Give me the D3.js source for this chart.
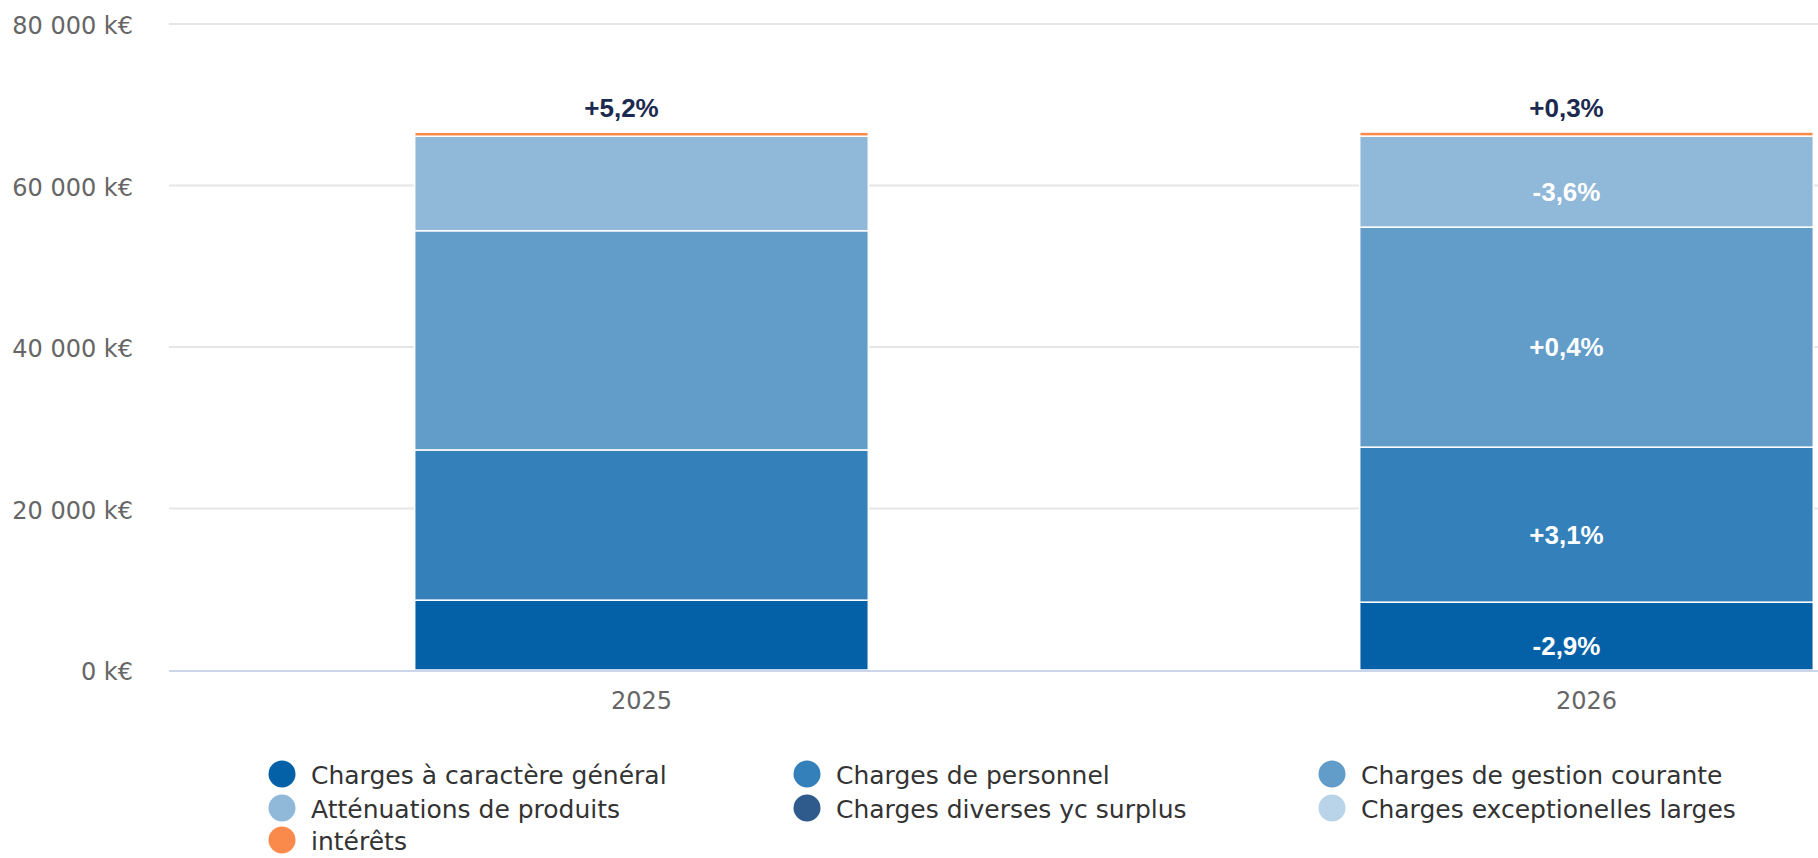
<!DOCTYPE html>
<html>
<head>
<meta charset="utf-8">
<script src="https://cdn.jsdelivr.net/npm/d3@7/dist/d3.min.js"></script>
<style>
  html, body { margin: 0; padding: 0; background: #ffffff; overflow: hidden; }
  svg { display: block; }
</style>
</head>
<body>
<svg id="chart" width="1818" height="858"></svg>
<script>
// ---------- DATA ----------
const years = ["2025", "2026"];
const seriesNames = [
  "Charges à caractère général",
  "Charges de personnel",
  "Charges de gestion courante",
  "Atténuations de produits",
  "Charges diverses yc surplus",
  "Charges exceptionelles larges",
  "intérêts"
];
// values in k€, one entry per year
const chargesGeneral   = [8650, 8400];
const chargesPersonnel = [18600, 19200];
const chargesGestion   = [27150, 27250];
const attenuations     = [11700, 11270];
const chargesDiverses  = [0, 0];
const chargesExcept    = [0, 0];
const interets         = [500, 500];
const seriesColors = ["#0461a8", "#3380ba", "#629cc8", "#8fb8d9", "#2f5b8c", "#b9d4e9", "#f98a4b"];
// variation labels: [year index, series index or -1 for total, text]
const variationLabels = [
  [0, -1, "+5,2%"],
  [1, -1, "+0,3%"],
  [1, 3, "-3,6%"],
  [1, 2, "+0,4%"],
  [1, 1, "+3,1%"],
  [1, 0, "-2,9%"]
];
const yTicks = [0, 20000, 40000, 60000, 80000];

// ---------- LAYOUT ----------
const svg = d3.select("#chart");
const plotLeft = 169, plotTop = 24, plotBottom = 670;
const plotRight = 2059; // plot extends beyond the visible frame (cropped)

const allSeries = [chargesGeneral, chargesPersonnel, chargesGestion, attenuations, chargesDiverses, chargesExcept, interets];
const table = years.map((y, i) => {
  const row = { year: y };
  seriesNames.forEach((n, s) => row[n] = allSeries[s][i]);
  return row;
});
const stacked = d3.stack().keys(seriesNames)(table);

const x = d3.scaleBand().domain(years).range([plotLeft, plotRight])
  .paddingInner(0.52).paddingOuter(0.26);
const y = d3.scaleLinear().domain([0, 80000]).range([plotBottom, plotTop]);
const color = d3.scaleOrdinal().domain(seriesNames).range(seriesColors);

const fmt = v => d3.format(",")(v).replace(/,/g, " ") + " k€";

// gridlines
svg.append("g").selectAll("line").data(yTicks.filter(t => t > 0)).join("line")
  .attr("x1", plotLeft).attr("x2", 1818)
  .attr("y1", d => y(d)).attr("y2", d => y(d))
  .attr("stroke", "#e6e6e6").attr("stroke-width", 2);

// y axis labels
const yAxis = d3.axisLeft(y).tickValues(yTicks).tickFormat(fmt).tickSize(0).tickPadding(36);
const gy = svg.append("g").attr("transform", `translate(${plotLeft},0)`).call(yAxis);
gy.select(".domain").remove();
gy.selectAll("text")
  .attr("font-family", "DejaVu Sans, Verdana, sans-serif")
  .attr("font-size", 24).attr("fill", "#666666").attr("dy", "0.4em");

// bars
svg.append("g").selectAll("g").data(stacked).join("g")
  .attr("fill", d => color(d.key))
  .selectAll("rect").data(d => d.filter(p => p[1] - p[0] > 0)).join("rect")
  .attr("x", d => x(d.data.year))
  .attr("width", x.bandwidth())
  .attr("y", d => y(d[1]))
  .attr("height", d => y(d[0]) - y(d[1]))
  .attr("stroke", "#ffffff").attr("stroke-width", 1.5);

// baseline (x axis line)
svg.append("line")
  .attr("x1", plotLeft).attr("x2", 1818)
  .attr("y1", y(0) + 1).attr("y2", y(0) + 1)
  .attr("stroke", "#ccd6eb").attr("stroke-width", 2);

// x axis labels
const xAxis = d3.axisBottom(x).tickSize(0).tickPadding(22);
const gx = svg.append("g").attr("transform", `translate(0,${plotBottom})`).call(xAxis);
gx.select(".domain").remove();
gx.selectAll("text")
  .attr("font-family", "DejaVu Sans, Verdana, sans-serif")
  .attr("font-size", 24).attr("fill", "#666666");

// variation labels
const labelDx = -20;
svg.append("g").selectAll("text").data(variationLabels).join("text")
  .attr("x", d => x(years[d[0]]) + x.bandwidth() / 2 + labelDx)
  .attr("y", d => {
    if (d[1] < 0) {
      const top = stacked[stacked.length - 1][d[0]][1];
      return y(top) - 15;
    }
    const seg = stacked[d[1]][d[0]];
    return (y(seg[0]) + y(seg[1])) / 2 + 19;
  })
  .attr("text-anchor", "middle")
  .attr("font-family", "Liberation Sans, Arial, sans-serif")
  .attr("font-weight", "bold")
  .attr("font-size", 26)
  .attr("fill", d => d[1] < 0 ? "#1b2a4e" : "#ffffff")
  .text(d => d[2]);

// legend
const legendCols = [282, 807, 1332];
const legendRows = [774, 808, 840];
const legend = svg.append("g").selectAll("g").data(seriesNames).join("g")
  .attr("transform", (d, i) => `translate(${legendCols[i % 3]},${legendRows[Math.floor(i / 3)]})`);
legend.append("circle").attr("r", 13.5).attr("fill", d => color(d));
legend.append("text")
  .attr("x", 29).attr("y", 1)
  .attr("dominant-baseline", "central")
  .attr("font-family", "DejaVu Sans, Verdana, sans-serif")
  .attr("font-size", 25).attr("fill", "#333333")
  .text(d => d);
</script>
</body>
</html>
